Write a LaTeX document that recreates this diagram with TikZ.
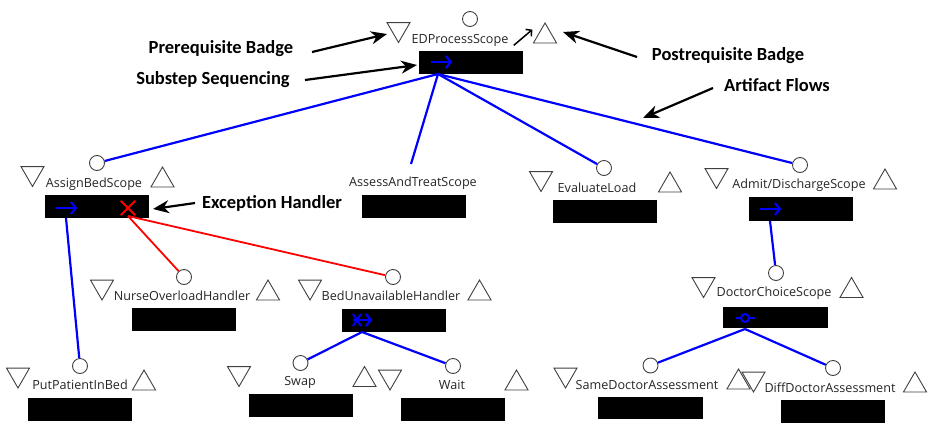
\documentclass[tikz,border=0pt]{standalone}
\usepackage{fontspec}
\setmainfont{Open Sans}
\newfontfamily\notefont{Carlito}
\usetikzlibrary{shapes.geometric,arrows.meta}
\begin{document}
\begin{tikzpicture}[x=1pt,y=-1pt,
 circ/.style={circle,draw=black!75,fill=white,line width=0.9pt,minimum size=15pt,inner sep=0},
 tridn/.style={regular polygon,regular polygon sides=3,shape border rotate=180,draw=black!75,line width=0.9pt,minimum size=26.6pt,inner sep=0,yshift=3.3pt},
 triup/.style={regular polygon,regular polygon sides=3,draw=black!75,line width=0.9pt,minimum size=26.6pt,inner sep=0,yshift=-3.3pt},
 lbl/.style={inner sep=0,text=black!85,font=\fontsize{12.6}{14}\selectfont},
 bbox/.style={fill=black,minimum width=104pt,minimum height=23pt,inner sep=0},
 flow/.style={blue,line width=2.2pt},
 exc/.style={red,line width=1.8pt},
 note/.style={inner sep=0,font=\notefont\bfseries\fontsize{18.5}{20}\selectfont},
 notearrow/.style={line width=2.2pt,-{Stealth[length=16pt,width=13pt,inset=5pt]}},
 seqarrow/.style={blue,line width=2.2pt,-{Straight Barb[length=5pt,width=12pt]}},
]
\useasboundingbox[fill=white] (0,0) rectangle (933,423);

% ---------- EDProcessScope ----------
\node[circ] (c_ed) at (470,19) {};
\node[tridn] (d_ed) at (398.5,32.5) {};
\node[triup] (u_ed) at (545,33) {};
\node[lbl] (l_ed) at (460,40) {EDProcessScope};
\node[bbox] (b_ed) at (471,62) {};
\node[inner sep=0] (s_ed1) at (430,62) {};
\node[inner sep=0] (s_ed2) at (453,62) {};
\draw[seqarrow] (s_ed1) -- (s_ed2);
\coordinate (h_ed) at (438,74);
\node[inner sep=0] (k1) at (513,46) {};
\node[inner sep=0] (k2) at (533,29) {};
\draw[line width=1.5pt,-{Straight Barb[length=4pt,width=9pt]}] (k1) -- (k2);

% ---------- AssignBedScope ----------
\node[circ] (c_ab) at (97,163) {};
\node[tridn] (d_ab) at (32.5,176.5) {};
\node[triup] (u_ab) at (162.5,177) {};
\node[lbl] (l_ab) at (94,184) {AssignBedScope};
\node[bbox] (b_ab) at (96.5,206.5) {};
\node[inner sep=0] (s_ab1) at (55,208) {};
\node[inner sep=0] (s_ab2) at (78,208) {};
\draw[seqarrow] (s_ab1) -- (s_ab2);
\node[inner sep=0,minimum size=14pt] (x_ab) at (128,208) {};
\draw[red,line width=1.8pt] (x_ab.north west) -- (x_ab.south east) (x_ab.north east) -- (x_ab.south west);
\coordinate (h_ab) at (66,218);
\coordinate (h_abx) at (128,216);

% ---------- AssessAndTreatScope ----------
\node[lbl] (l_at) at (413,183) {AssessAndTreatScope};
\node[bbox] (b_at) at (414,206) {};
\coordinate (e_at) at (411,164);

% ---------- EvaluateLoad ----------
\node[circ] (c_el) at (604,168) {};
\node[tridn] (d_el) at (541,181.5) {};
\node[triup] (u_el) at (670,182) {};
\node[lbl] (l_el) at (597,188) {EvaluateLoad};
\node[bbox] (b_el) at (605,211.5) {};

% ---------- Admit/DischargeScope ----------
\node[circ] (c_ad) at (800,165) {};
\node[tridn] (d_ad) at (716.5,178.5) {};
\node[triup] (u_ad) at (885,179) {};
\node[lbl] (l_ad) at (799,185) {Admit/DischargeScope};
\node[bbox,minimum height=24pt] (b_ad) at (800.5,209) {};
\node[inner sep=0] (s_ad1) at (759,209) {};
\node[inner sep=0] (s_ad2) at (782,209) {};
\draw[seqarrow] (s_ad1) -- (s_ad2);
\coordinate (h_ad) at (770,221);

% ---------- NurseOverloadHandler ----------
\node[circ] (c_no) at (184,277) {};
\node[tridn] (d_no) at (102,290) {};
\node[triup] (u_no) at (268,290) {};
\node[lbl] (l_no) at (182,296) {NurseOverloadHandler};
\node[bbox] (b_no) at (184,319.5) {};

% ---------- BedUnavailableHandler ----------
\node[circ] (c_bu) at (393,277) {};
\node[tridn] (d_bu) at (310,290) {};
\node[triup] (u_bu) at (479.5,290) {};
\node[lbl] (l_bu) at (391,296) {BedUnavailableHandler};
\node[bbox] (b_bu) at (393.5,320.5) {};
\node[inner sep=0] (s_bu1) at (352,320) {};
\node[inner sep=0] (s_bu2) at (373,320) {};
\draw[seqarrow] (s_bu1) -- (s_bu2);
\draw[blue,line width=2pt] (353,314) -- (361,326) (353,326) -- (361,314);
\coordinate (h_bu) at (362,332);

% ---------- PutPatientInBed ----------
\node[circ] (c_pp) at (80,366) {};
\node[tridn] (d_pp) at (18,378) {};
\node[triup] (u_pp) at (144,380) {};
\node[lbl] (l_pp) at (80,385) {PutPatientInBed};
\node[bbox] (b_pp) at (80,409.5) {};

% ---------- Swap ----------
\node[circ] (c_sw) at (300.5,363) {};
\node[tridn] (d_sw) at (239,376.5) {};
\node[triup] (u_sw) at (364.5,376.5) {};
\node[lbl] (l_sw) at (300,382) {Swap};
\node[bbox] (b_sw) at (301,405.5) {};

% ---------- Wait ----------
\node[circ] (c_wt) at (453,366) {};
\node[tridn] (d_wt) at (390,380) {};
\node[triup] (u_wt) at (516.5,380) {};
\node[lbl] (l_wt) at (452,385) {Wait};
\node[bbox] (b_wt) at (453,409.5) {};

% ---------- DoctorChoiceScope ----------
\node[circ] (c_dc) at (776,273) {};
\node[tridn] (d_dc) at (703.5,287.5) {};
\node[triup] (u_dc) at (851.5,287.5) {};
\node[lbl] (l_dc) at (774,293) {DoctorChoiceScope};
\node[bbox,minimum width=105pt,minimum height=21pt] (b_dc) at (775.5,317.5) {};
\node[circle,draw=blue,line width=2pt,minimum size=8pt,inner sep=0] (o_dc) at (745,318) {};
\node[inner sep=0] (o_l) at (735,318) {};
\node[inner sep=0] (o_r) at (756,318) {};
\draw[blue,line width=2pt] (o_l) -- (o_dc) (o_dc) -- (o_r);
\coordinate (h_dc) at (745,329);

% ---------- SameDoctorAssessment ----------
\node[circ] (c_sd) at (650.5,365.5) {};
\node[tridn] (d_sd) at (565.5,378) {};
\node[triup] (u_sd) at (738.5,379) {};
\node[lbl] (l_sd) at (647,385) {SameDoctorAssessment};
\node[bbox,minimum width=105pt,minimum height=22pt] (b_sd) at (650.5,408) {};

% ---------- DiffDoctorAssessment ----------
\node[circ] (c_dd) at (833,368) {};
\node[tridn] (d_dd) at (753.5,382) {};
\node[triup] (u_dd) at (915,382) {};
\node[lbl] (l_dd) at (830,388) {DiffDoctorAssessment};
\node[bbox] (b_dd) at (833,411.5) {};

% ---------- flows ----------
\draw[flow] (h_ed) -- (c_ab);
\draw[flow] (h_ed) -- (e_at);
\draw[flow] (h_ed) -- (c_el);
\draw[flow] (h_ed) -- (c_ad);
\draw[flow] (h_ab) -- (c_pp);
\draw[exc] (h_abx) -- (c_no);
\draw[exc] (h_abx) -- (c_bu);
\draw[flow] (h_bu) -- (c_sw);
\draw[flow] (h_bu) -- (c_wt);
\draw[flow] (h_ad) -- (c_dc);
\draw[flow] (h_dc) -- (c_sd);
\draw[flow] (h_dc) -- (c_dd);

% ---------- annotations ----------
\node[note] (n_pre) at (221,49) {Prerequisite Badge};
\node[note] (n_sub) at (213,80) {Substep Sequencing};
\node[note] (n_post) at (728,56) {Postrequisite Badge};
\node[note] (n_art) at (777,85) {Artifact Flows};
\node[note] (n_exc) at (272,203) {Exception Handler};
\coordinate (f_pre) at (312,52);
\coordinate (f_sub) at (305,80);
\coordinate (f_post) at (637,57);
\coordinate (f_art) at (713,88);
\coordinate (f_exc) at (195,203);
\coordinate (t_pre) at (387,34);
\coordinate (t_sub) at (417,65);
\coordinate (t_post) at (563,32);
\coordinate (t_art) at (643,118);
\coordinate (t_exc) at (153,209);
\draw[notearrow] (f_pre) -- (t_pre);
\draw[notearrow] (f_sub) -- (t_sub);
\draw[notearrow] (f_post) -- (t_post);
\draw[notearrow] (f_art) -- (t_art);
\draw[notearrow] (f_exc) -- (t_exc);
\end{tikzpicture}
\end{document}
